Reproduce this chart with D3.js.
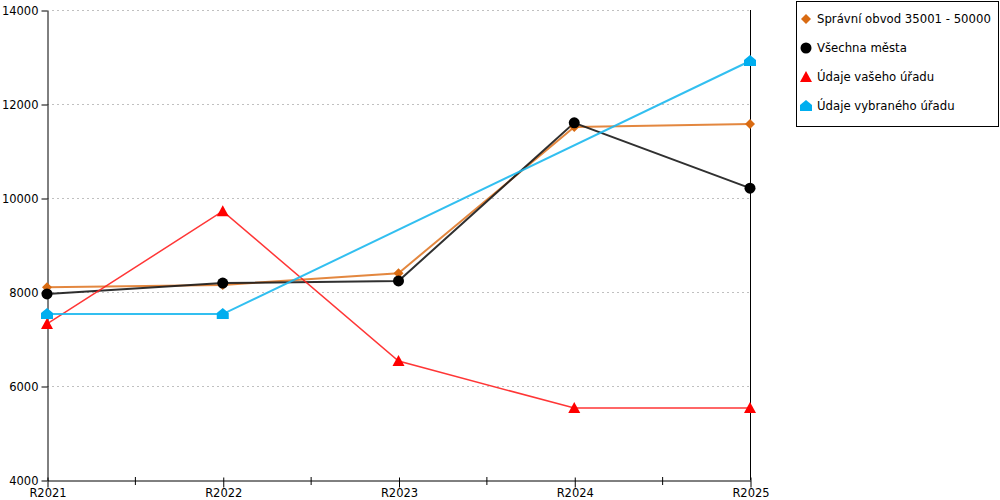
<!DOCTYPE html>
<html>
<head>
<meta charset="utf-8">
<script src="https://cdn.jsdelivr.net/npm/d3@7"></script>
<style>
  body { margin: 0; background: #fff; }
  svg { display: block; font-family: "DejaVu Sans", Verdana, sans-serif; }
</style>
</head>
<body>
<svg id="chart" width="1000" height="500"></svg>
<script>
// Data
const years = ["R2021", "R2022", "R2023", "R2024", "R2025"];
const obvod = [8100, 8150, 8400, 11510, 11575];
const vsechna = [7960, 8190, 8235, 11600, 10210];
const vasUrad = [7320, 9720, 6530, 5530, 5530];
const vybranyUrad = [7530, 7530, null, null, 12915];
const yTicks = [4000, 6000, 8000, 10000, 12000, 14000];

const series = [
  { name: "Správní obvod 35001 - 50000", values: obvod, color: "#e07a2a", mark: "#d96b12", shape: "diamond", w: 2 },
  { name: "Všechna města", values: vsechna, color: "#1a1a1a", mark: "#000", shape: "circle", w: 2 },
  { name: "Údaje vašeho úřadu", values: vasUrad, color: "#ff2020", mark: "#ff0000", shape: "triangle", w: 1.5 },
  { name: "Údaje vybraného úřadu", values: vybranyUrad, color: "#1cb8ee", mark: "#00aeef", shape: "house", w: 2 }
];

// Config
const plotL = 47, plotR = 750, plotT = 10, plotB = 480;
const svg = d3.select("#chart");

const x = d3.scalePoint().domain(years).range([plotL, plotR]);
const y = d3.scaleLinear().domain([4000, 14000]).range([plotB, plotT]);

// gridlines
svg.append("g")
  .selectAll("line")
  .data(yTicks.filter(d => d > 4000))
  .join("line")
  .attr("x1", plotL).attr("x2", plotR)
  .attr("y1", d => y(d) + 0.5).attr("y2", d => y(d) + 0.5)
  .attr("stroke", "#c0c0c0")
  .attr("stroke-dasharray", "2,3");

// y axis
const yAxis = svg.append("g")
  .attr("transform", `translate(${plotL + 0.5},0.5)`)
  .call(d3.axisLeft(y).tickValues(yTicks).tickFormat(d3.format("d"))
    .tickSize(6).tickSizeOuter(0).tickPadding(3));
yAxis.select(".domain").attr("stroke", "#000");
yAxis.selectAll("text").attr("font-size", 11.5).attr("fill", "#000")
  .attr("font-family", "DejaVu Sans, Verdana, sans-serif");

// right line
svg.append("line")
  .attr("x1", plotR + 0.5).attr("x2", plotR + 0.5)
  .attr("y1", plotT).attr("y2", plotB)
  .attr("stroke", "#000");

// x axis
const xAxis = svg.append("g")
  .attr("transform", `translate(0.5,${plotB + 0.5})`)
  .call(d3.axisBottom(x).tickSize(7).tickSizeOuter(0).tickPadding(1));
xAxis.select(".domain").attr("stroke", "#000");
xAxis.selectAll(".tick line").attr("y1", -3);
xAxis.selectAll("text").attr("font-size", 11.5).attr("fill", "#000")
  .attr("font-family", "DejaVu Sans, Verdana, sans-serif");

// half ticks between categories
const halves = years.slice(0, -1).map((d, i) => (x(d) + x(years[i + 1])) / 2);
svg.append("g")
  .selectAll("line")
  .data(halves)
  .join("line")
  .attr("x1", d => d + 0.5).attr("x2", d => d + 0.5)
  .attr("y1", plotB - 3).attr("y2", plotB + 5)
  .attr("stroke", "#000");

// marker shapes
function shapePath(shape, cx, cy) {
  if (shape === "diamond") {
    const r = 5;
    return `M${cx},${cy - r}L${cx + r},${cy}L${cx},${cy + r}L${cx - r},${cy}Z`;
  }
  if (shape === "triangle") {
    return `M${cx},${cy - 6}L${cx + 6},${cy + 5}L${cx - 6},${cy + 5}Z`;
  }
  if (shape === "house") {
    return `M${cx},${cy - 6}L${cx + 6},${cy - 1}L${cx + 6},${cy + 5}L${cx - 6},${cy + 5}L${cx - 6},${cy - 1}Z`;
  }
  return null;
}

function drawMarker(g, s, cx, cy) {
  if (s.shape === "circle") {
    g.append("circle").attr("cx", cx).attr("cy", cy).attr("r", 5.5).attr("fill", s.mark);
  } else {
    g.append("path").attr("d", shapePath(s.shape, cx, cy)).attr("fill", s.mark);
  }
}

// lines + markers
const line = d3.line()
  .x(d => x(d.year))
  .y(d => y(d.v));

series.forEach(s => {
  const pts = years.map((yr, i) => ({ year: yr, v: s.values[i] }));
  const valid = pts.filter(d => d.v !== null);
  svg.append("path")
    .datum(valid)
    .attr("d", line)
    .attr("fill", "none")
    .attr("stroke", s.color)
    .attr("stroke-width", s.w)
    .attr("stroke-opacity", 0.9);
});

series.forEach(s => {
  const g = svg.append("g");
  years.forEach((yr, i) => {
    if (s.values[i] !== null) drawMarker(g, s, x(yr), y(s.values[i]));
  });
});

// legend
const legend = svg.append("g");
legend.append("rect")
  .attr("x", 796.5).attr("y", 1.5)
  .attr("width", 202).attr("height", 125)
  .attr("fill", "#fff").attr("stroke", "#000");

series.forEach((s, i) => {
  const cy = 19 + i * 29;
  drawMarker(legend, s, 806, cy);
  legend.append("text")
    .attr("x", 817).attr("y", cy + 4)
    .attr("font-size", 11.7)
    .attr("fill", "#000")
    .text(s.name);
});
</script>
</body>
</html>
